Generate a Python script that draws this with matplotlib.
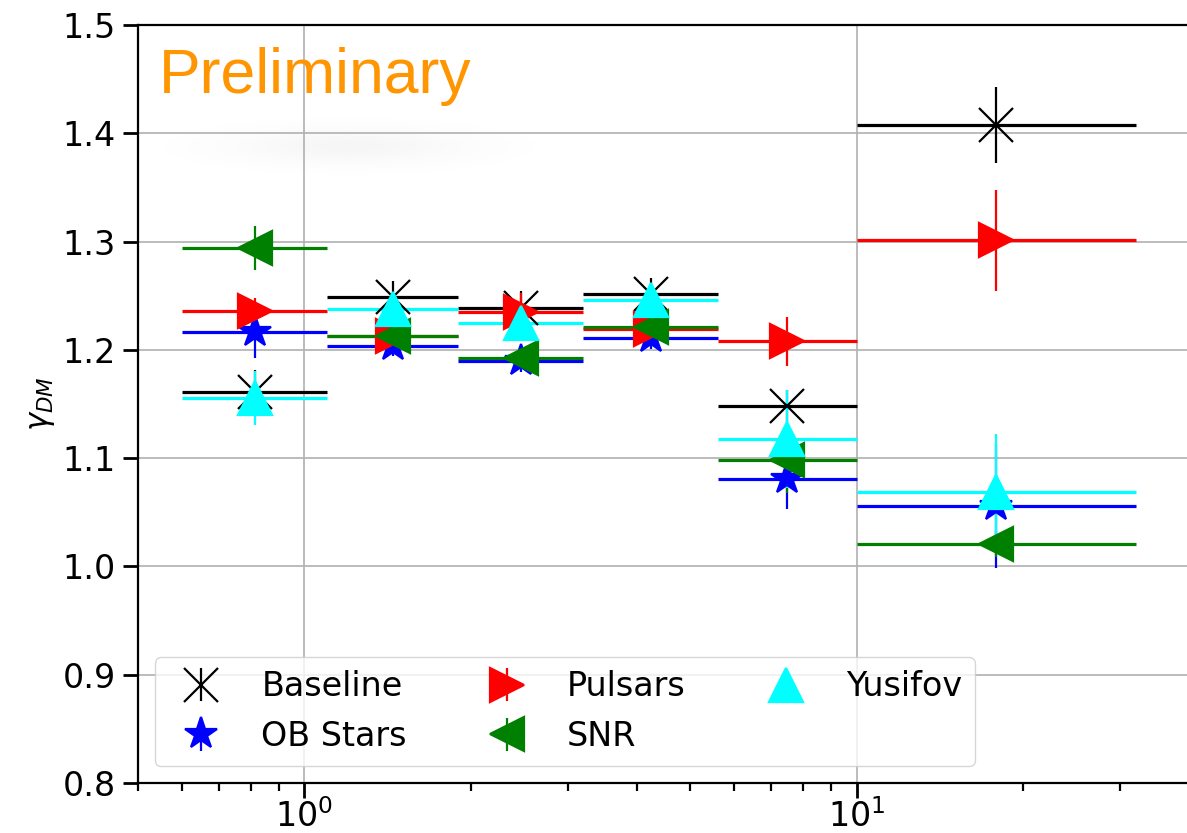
import numpy as np
import matplotlib
matplotlib.use("Agg")
import matplotlib.pyplot as plt
from matplotlib.ticker import NullFormatter

# radial bins (kpc) and best-fit gamma per tracer
bin_edges = [0.6, 1.1, 1.9, 3.2, 5.6, 10.0, 32.0]

labels = ["Baseline", "OB Stars", "Pulsars", "SNR", "Yusifov"]
colors = ["black", "blue", "red", "green", "cyan"]
markers = ["x", "*", ">", "<", "^"]

baseline = [1.161, 1.2485, 1.239, 1.2515, 1.148, 1.408]
ob_stars = [1.2165, 1.204, 1.1895, 1.211, 1.081, 1.0555]
pulsars = [1.236, 1.213, 1.2345, 1.2195, 1.208, 1.301]
snr = [1.294, 1.2125, 1.1925, 1.221, 1.098, 1.0205]
yusifov = [1.1555, 1.238, 1.2245, 1.2465, 1.1175, 1.0685]

baseline_err = [0.02, 0.015, 0.015, 0.015, 0.015, 0.035]
ob_stars_err = [0.024, 0.01, 0.01, 0.01, 0.028, 0.057]
pulsars_err = [0.012, 0.012, 0.018, 0.012, 0.0225, 0.047]
snr_err = [0.02, 0.01, 0.01, 0.01, 0.03, 0.012]
yusifov_err = [0.025, 0.012, 0.012, 0.012, 0.045, 0.054]

values = [baseline, ob_stars, pulsars, snr, yusifov]
errors = [baseline_err, ob_stars_err, pulsars_err, snr_err, yusifov_err]

edges = np.array(bin_edges)
lo, hi = edges[:-1], edges[1:]
centers = np.sqrt(lo * hi)

fig = plt.figure(figsize=(11.87, 8.33), dpi=100)
ax = fig.add_axes([0.1163, 0.0600, 0.8857, 0.9100])

for y, e, c, m, lab in zip(values, errors, colors, markers, labels):
    ax.hlines(y, lo, hi, colors=c, linewidth=2.3, zorder=2)
    ax.errorbar(centers, y, yerr=e, fmt=m, color=c, ms=24, mew=1.6,
                elinewidth=1.6, label=lab)

ax.set_xscale("log")
ax.set_xlim(0.5, 40)
ax.set_ylim(0.8, 1.5)
ax.xaxis.set_minor_formatter(NullFormatter())

ax.grid(True, which="major", color="#b0b0b0", linewidth=1.2)
ax.tick_params(which="major", length=11, width=2, labelsize=24, pad=5)
ax.tick_params(axis="x", which="major", pad=1)
ax.tick_params(which="minor", length=6, width=1.6)
for s in ax.spines.values():
    s.set_linewidth(1.6)

ax.set_ylabel(r"$\gamma_{DM}$", fontsize=22, labelpad=4)

ax.text(0.02, 0.91, "Preliminary", transform=ax.transAxes, color="#ff9500",
        fontsize=45, family="Liberation Sans", va="baseline", ha="left")

# faint smudge under the label
gx, gy = np.meshgrid(np.linspace(-1, 1, 200), np.linspace(-1, 1, 60))
smudge = np.zeros((60, 200, 4))
smudge[..., :3] = 0.5
smudge[..., 3] = 0.07 * np.exp(-(gx ** 2) / 0.3 - (gy ** 2) / 0.2)
ax.imshow(smudge, extent=[0.01, 0.39, 0.79, 0.89], transform=ax.transAxes,
          aspect="auto", zorder=1, interpolation="bilinear")

ax.legend(loc="lower left", ncol=3, fontsize=24)

fig.savefig("out.png", dpi=100)
